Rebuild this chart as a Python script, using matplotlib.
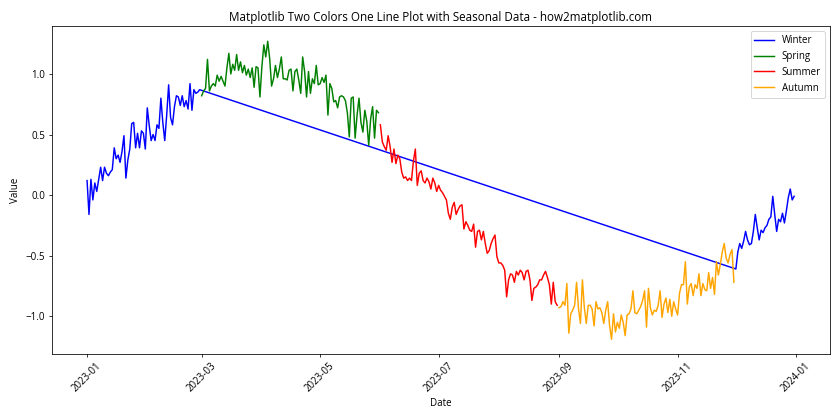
import numpy as np
import pandas as pd
import matplotlib
matplotlib.use("Agg")
import matplotlib.pyplot as plt

plt.rcParams['font.family'] = ['Open Sans', 'DejaVu Sans']

# valores diarios, um array por mes (2023)
jan = [0.12, -0.16, 0.13, -0.04, 0.10, 0.03, 0.13, 0.23, 0.12, 0.23,
       0.18, 0.16, 0.19, 0.21, 0.39, 0.30, 0.33, 0.27, 0.36, 0.49,
       0.14, 0.29, 0.38, 0.59, 0.60, 0.39, 0.51, 0.39, 0.53, 0.51, 0.38]
feb = [0.72, 0.575, 0.45, 0.50, 0.45, 0.58, 0.55, 0.80, 0.60, 0.45,
       0.66, 0.91, 0.64, 0.58, 0.73, 0.82, 0.81, 0.74, 0.82, 0.73,
       0.78, 0.71, 0.92, 0.70, 0.87, 0.84, 0.85, 0.87]
mar = [0.82, 0.86, 0.88, 1.12, 0.86, 0.90, 0.92, 0.90, 0.99, 0.94,
       0.98, 0.94, 0.90, 1.05, 1.17, 1.00, 1.08, 1.03, 1.16, 1.03,
       1.10, 1.01, 1.07, 0.99, 1.04, 0.97, 1.05, 0.89, 1.06, 1.05, 0.81]
apr = [1.06, 1.24, 1.14, 1.27, 1.13, 0.90, 0.96, 1.07, 0.97, 1.04,
       1.14, 0.96, 0.96, 0.95, 1.03, 1.04, 0.86, 1.02, 1.04, 0.95,
       0.84, 1.14, 1.02, 0.81, 1.02, 0.84, 0.96, 0.92, 1.07, 0.91]
may = [0.92, 0.97, 0.93, 0.99, 0.66, 0.92, 0.88, 0.77, 0.78, 0.72,
       0.81, 0.82, 0.81, 0.78, 0.68, 0.48, 0.80, 0.81, 0.47, 0.66,
       0.80, 0.60, 0.52, 0.70, 0.61, 0.41, 0.63, 0.73, 0.47, 0.70, 0.68]
jun = [0.58, 0.44, 0.40, 0.37, 0.49, 0.40, 0.27, 0.38, 0.26, 0.33,
       0.30, 0.19, 0.14, 0.15, 0.12, 0.14, 0.12, 0.28, 0.38, 0.08,
       0.18, 0.20, 0.12, 0.10, 0.14, 0.11, 0.05, 0.14, 0.10, 0.03]
jul = [0.08, 0.04, 0.02, -0.01, -0.04, -0.15, -0.20, -0.10, -0.06, -0.16,
       -0.12, -0.09, -0.08, -0.28, -0.22, -0.25, -0.29, -0.30, -0.24, -0.43,
       -0.30, -0.29, -0.37, -0.30, -0.40, -0.48, -0.46, -0.40, -0.36, -0.33, -0.51]
aug = [-0.56, -0.56, -0.58, -0.62, -0.84, -0.70, -0.65, -0.66, -0.72, -0.63,
       -0.66, -0.62, -0.64, -0.70, -0.63, -0.62, -0.70, -0.87, -0.77, -0.76,
       -0.74, -0.70, -0.70, -0.66, -0.63, -0.68, -0.74, -0.90, -0.72, -0.88, -0.91]
sep = [-0.93, -0.92, -0.88, -0.91, -0.73, -1.14, -0.98, -0.95, -0.91, -0.72,
       -0.94, -1.06, -0.70, -0.93, -1.06, -0.91, -0.91, -0.94, -1.08, -0.88,
       -0.94, -0.93, -0.97, -1.06, -0.95, -0.88, -1.08, -1.19, -0.98, -1.13]
oct_ = [-1.05, -1.10, -0.99, -1.05, -1.16, -0.99, -0.98, -0.94, -0.79, -0.97,
        -0.98, -0.95, -0.92, -0.87, -0.79, -1.09, -0.77, -0.93, -0.99, -0.95,
        -0.96, -0.91, -0.79, -1.01, -0.90, -0.85, -0.97, -0.86, -1.00, -0.88, -0.94]
nov = [-0.99, -0.81, -0.74, -0.74, -0.55, -0.90, -0.76, -0.73, -0.83, -0.74,
       -0.77, -0.65, -0.83, -0.73, -0.78, -0.79, -0.64, -0.77, -0.68, -0.82,
       -0.55, -0.66, -0.57, -0.47, -0.40, -0.52, -0.56, -0.49, -0.45, -0.72]
dec = [-0.61, -0.47, -0.40, -0.44, -0.38, -0.30, -0.37, -0.41, -0.40, -0.30,
       -0.16, -0.27, -0.37, -0.29, -0.31, -0.27, -0.25, -0.20, -0.18, -0.01,
       -0.16, -0.30, -0.20, -0.22, -0.15, -0.23, -0.13, -0.02, 0.05, -0.04, -0.01]

estacoes = ['Winter', 'Spring', 'Summer', 'Autumn']
meses_estacao = {'Winter': [12, 1, 2], 'Spring': [3, 4, 5],
                 'Summer': [6, 7, 8], 'Autumn': [9, 10, 11]}
cores = {'Winter': 'blue', 'Spring': 'green', 'Summer': 'red', 'Autumn': 'orange'}

datas = pd.date_range('2023-01-01', '2023-12-31', freq='D')
valores = np.array(jan + feb + mar + apr + may + jun + jul + aug + sep + oct_ + nov + dec)

fig, ax = plt.subplots(figsize=(12, 6), dpi=70)
for estacao in estacoes:
    mascara = datas.month.isin(meses_estacao[estacao])
    ax.plot(datas[mascara], valores[mascara], color=cores[estacao], label=estacao)

ax.set_title('Matplotlib Two Colors One Line Plot with Seasonal Data - how2matplotlib.com')
ax.set_xlabel('Date')
ax.set_ylabel('Value')
ax.legend()
plt.xticks(rotation=45)
plt.tight_layout()
plt.savefig('out.png')
